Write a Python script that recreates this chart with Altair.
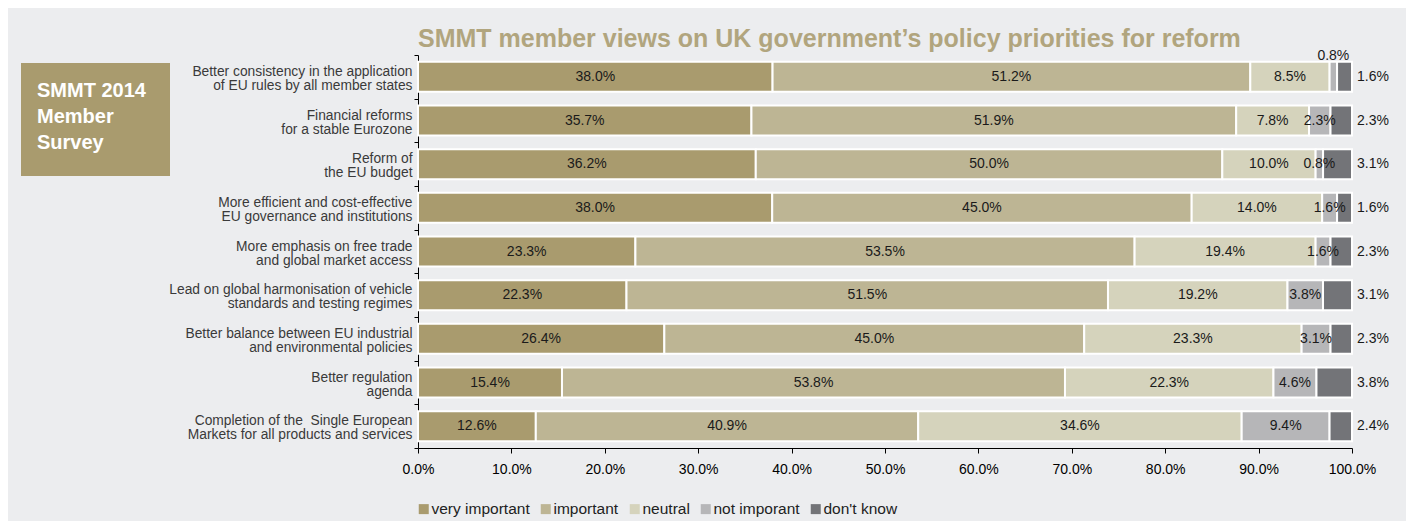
import altair as alt
import pandas as pd

items = [
    "Better consistency in the application|of EU rules by all member states",
    "Financial reforms|for a stable Eurozone",
    "Reform of|the EU budget",
    "More efficient and cost-effective|EU governance and institutions",
    "More emphasis on free trade|and global market access",
    "Lead on global harmonisation of vehicle|standards and testing regimes",
    "Better balance between EU industrial|and environmental policies",
    "Better regulation|agenda",
    "Completion of the \u00a0Single European|Markets for all products and services",
]
categories = ["very important", "important", "neutral", "not imporant", "don't know"]
very_important = [38.0, 35.7, 36.2, 38.0, 23.3, 22.3, 26.4, 15.4, 12.6]
important = [51.2, 51.9, 50.0, 45.0, 53.5, 51.5, 45.0, 53.8, 40.9]
neutral = [8.5, 7.8, 10.0, 14.0, 19.4, 19.2, 23.3, 22.3, 34.6]
not_important = [0.8, 2.3, 0.8, 1.6, 1.6, 3.8, 3.1, 4.6, 9.4]
dont_know = [1.6, 2.3, 3.1, 1.6, 2.3, 3.1, 2.3, 3.8, 2.4]
colors = ["#A99B6E", "#BDB594", "#D5D3BC", "#B6B6B8", "#737478"]

series = [very_important, important, neutral, not_important, dont_know]
rows = []
for i, item in enumerate(items):
    for k, cat in enumerate(categories):
        rows.append({"item": item, "row": i, "cat": cat, "order": k,
                     "value": series[k][i], "label": f"{series[k][i]:.1f}%"})
df = pd.DataFrame(rows)

FONT = "Liberation Sans"

base = alt.Chart(df).transform_stack(
    stack="value", groupby=["item"], as_=["v0", "v1"], offset="normalize",
    sort=[alt.SortField("order", order="ascending")]
).transform_calculate(mid="(datum.v0 + datum.v1) / 2")

yenc = alt.Y("item:N", sort=items, title=None,
             scale=alt.Scale(paddingInner=0, paddingOuter=0),
             axis=alt.Axis(labelExpr="split(datum.label, '|')", labelFont=FONT,
                           labelFontSize=13.8, labelColor="#3a3a3a", labelLineHeight=14,
                           labelOffset=-5.5,
                           labelPadding=2, tickSize=4, tickColor="#000", domainColor="#000",
                           tickBand="extent", labelLimit=400))

bars = base.mark_bar(size=30, stroke="white", strokeWidth=2).encode(
    x=alt.X("v0:Q", scale=alt.Scale(domain=[0, 1]), title=None,
            axis=alt.Axis(format=".1%", values=[i / 10 for i in range(11)],
                          labelFont=FONT, labelFontSize=14, labelColor="#000",
                          labelFlush=False, labelOverlap=False,
                          tickSize=5, tickColor="#000", domainColor="#000",
                          labelPadding=9, grid=False)),
    x2="v1:Q",
    y=yenc,
    color=alt.Color("cat:N", scale=alt.Scale(domain=categories, range=colors),
                    legend=alt.Legend(orient="none", legendX=-2, legendY=446,
                                      direction="horizontal", title=None,
                                      symbolType="square", symbolSize=100,
                                      symbolStrokeWidth=0, labelFont=FONT,
                                      labelFontSize=15.5, labelColor="#222",
                                      labelOffset=0, columnPadding=8)),
)

inner = base.transform_filter(
    f"datum.order <= 2 || (datum.order == 3 && datum.row != 0)"
).mark_text(font=FONT, fontSize=14, color="#1a1a1a").encode(
    x="mid:Q", y=alt.Y("item:N", sort=items), text="label:N")

above = base.transform_filter("datum.order == 3 && datum.row == 0").mark_text(
    font=FONT, fontSize=14, color="#1a1a1a", dy=-21).encode(
    x="mid:Q", y=alt.Y("item:N", sort=items), text="label:N")

outside = base.transform_filter("datum.order == 4").mark_text(
    font=FONT, fontSize=14, color="#1a1a1a", align="left", dx=5).encode(
    x="v1:Q", y=alt.Y("item:N", sort=items), text="label:N")

box_df = pd.DataFrame({"t": [["SMMT 2014", "Member", "Survey"]]})
box = alt.Chart(box_df).mark_rect(color="#A99B6E").encode(
    x=alt.value(-397), x2=alt.value(-248), y=alt.value(8), y2=alt.value(121))
box_text = alt.Chart(box_df).mark_text(
    font=FONT, fontSize=20, fontWeight="bold", color="white", align="left",
    baseline="alphabetic", lineHeight=26).encode(
    x=alt.value(-381), y=alt.value(42), text="t")

chart = alt.layer(bars, inner, above, outside, box, box_text).properties(
    width=934, height=393,
    title=alt.TitleParams(
        "SMMT member views on UK government\u2019s policy priorities for reform",
        anchor="start", frame="group", font=FONT, fontSize=25, fontWeight="bold",
        color="#B1A57E", offset=8, dy=12),
    autosize=alt.AutoSizeParams(type="none"),
    padding={"left": 410, "top": 47, "right": 54, "bottom": 73},
    background="#ECEDEF",
).configure_view(stroke=None).resolve_scale(y="shared")

chart.save("out.html", embed_options={"renderer": "svg", "actions": False})
